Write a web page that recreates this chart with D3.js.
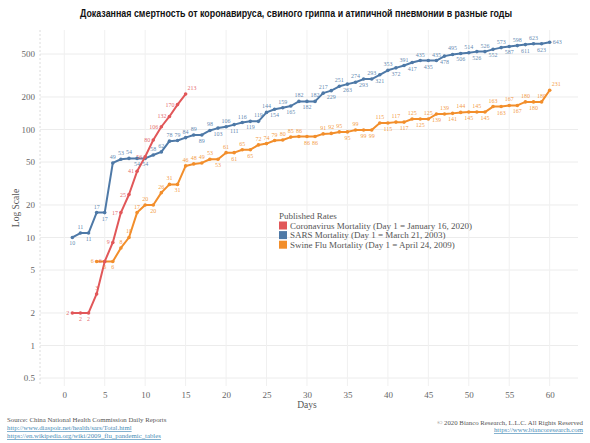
<!DOCTYPE html>
<html><head><meta charset="utf-8">
<script src="https://cdn.jsdelivr.net/npm/d3@7"></script>
<style>
body{margin:0;background:#fff;}
svg{display:block;}
</style></head>
<body>
<svg id="chart" width="590" height="443"></svg>
<script>
const title = "Доказанная смертность от коронавируса, свиного гриппа и атипичной пневмонии в разные годы";
const coronaDays = d3.range(1, 16);
const coronaValues = [2,2,2,3,6,9,17,25,41,56,80,106,132,170,213];
const sarsDays = d3.range(1, 61);
const sarsValues = [10,11,11,17,17,49,53,54,54,54,58,62,78,79,84,89,89,98,103,106,111,116,119,119,144,154,159,165,182,182,182,217,229,251,263,274,293,293,321,353,372,391,417,435,435,435,478,495,506,514,526,526,552,573,587,598,611,623,623,643];
const swineDays = d3.range(4, 61);
const swineValues = [6,6,6,8,10,17,20,20,26,31,31,46,48,49,53,53,61,61,65,65,72,74,79,80,85,86,86,86,91,92,95,95,99,99,99,115,115,117,117,125,125,125,139,139,141,144,145,145,145,163,163,167,167,180,180,180,231];
const yTicks = [0.5,1,2,5,10,20,50,100,200,500];
const xTicks = d3.range(0, 61, 5);
const seriesNames = ["Coronavirus Mortality (Day 1 = January 16, 2020)","SARS Mortality  (Day 1 = March 21, 2003)","Swine Flu Mortality  (Day 1 = April 24, 2009)"];
const seriesColors = ["#e15759","#4e79a7","#f28e2b"];
const legendTitle = "Published Rates";
const sourceLines = ["Source: China National Health Commission Daily Reports","http://www.diaspoir.net/health/sars/Total.html","https://en.wikipedia.org/wiki/2009_flu_pandemic_tables"];
const copyright = "© 2020 Bianco Research, L.L.C. All Rights Reserved";
const siteUrl = "https://www.biancoresearch.com";

const svg = d3.select("#chart");
const serif = "'Liberation Serif','DejaVu Serif',serif";
const L = 40, R = 578, T = 30, B = 386;
const x = d3.scaleLinear().domain([-3, 63.5]).range([L, R]);
const y = d3.scaleLog().domain([0.5, 500]).range([378, 54]);

// title
svg.append("text").attr("x", 296).attr("y", 17).attr("text-anchor","middle")
  .attr("font-family","'Liberation Sans',Arial,sans-serif").attr("font-weight","bold")
  .attr("font-size",10.5).attr("fill","#111")
  .attr("textLength",432).attr("lengthAdjust","spacingAndGlyphs").text(title);

// grid
const g = svg.append("g");
g.selectAll("line.h").data(yTicks).join("line").attr("class","h")
  .attr("x1",L).attr("x2",R).attr("y1",d=>y(d)).attr("y2",d=>y(d))
  .attr("stroke","#ececec").attr("stroke-width",1);
g.selectAll("line.v").data(xTicks).join("line").attr("class","v")
  .attr("x1",d=>x(d)).attr("x2",d=>x(d)).attr("y1",T).attr("y2",B)
  .attr("stroke","#f0f0f0").attr("stroke-width",1);
g.append("line").attr("x1",L).attr("x2",L).attr("y1",T).attr("y2",B)
  .attr("stroke","#dcdcdc").attr("stroke-dasharray","2,2");

// axes
const yAxis = svg.append("g").attr("transform",`translate(${L},0)`)
  .call(d3.axisLeft(y).tickValues(yTicks).tickFormat(d=>String(d)).tickSize(0).tickPadding(5));
const xAxis = svg.append("g").attr("transform",`translate(0,${B})`)
  .call(d3.axisBottom(x).tickValues(xTicks).tickFormat(d=>String(d)).tickSize(0).tickPadding(6));
[yAxis,xAxis].forEach(a=>{
  a.select(".domain").remove();
  a.selectAll("text").attr("font-family",serif).attr("font-size",9).attr("fill","#666");
});

svg.append("text").attr("transform","translate(19,208) rotate(-90)").attr("text-anchor","middle")
  .attr("font-family",serif).attr("font-size",9.5).attr("fill","#555").text("Log Scale");
svg.append("text").attr("x",x(30)).attr("y",408).attr("text-anchor","middle")
  .attr("font-family",serif).attr("font-size",9.5).attr("fill","#555").text("Days");

// series
const series = [
  {days: sarsDays, values: sarsValues, color: seriesColors[1], first:"below", last:"right", side:false},
  {days: swineDays, values: swineValues, color: seriesColors[2], first:"left", last:"upright", side:false},
  {days: coronaDays, values: coronaValues, color: seriesColors[0], first:"left", last:"upright", side:true}
];
const line = d3.line().x(d=>x(d[0])).y(d=>y(d[1]));
const placed = [];
function overlaps(b){
  return placed.some(p => b.x0 < p.x1 && b.x1 > p.x0 && b.y0 < p.y1 && b.y1 > p.y0);
}
const lineLayer = svg.append("g");
const labelLayer = svg.append("g");
series.forEach(s=>{
  const pts = s.days.map((d,i)=>[d, s.values[i]]);
  lineLayer.append("path").datum(pts).attr("d",line).attr("fill","none")
    .attr("stroke",s.color).attr("stroke-width",2).attr("stroke-linejoin","round");
  lineLayer.append("g").selectAll("circle").data(pts).join("circle")
    .attr("cx",d=>x(d[0])).attr("cy",d=>y(d[1])).attr("r",1.8).attr("fill",s.color);
});
series.forEach(s=>{
  const pts = s.days.map((d,i)=>[d, s.values[i]]);
  pts.forEach((d,i)=>{
    const t = labelLayer.append("text").attr("font-family",serif).attr("font-size",6)
      .attr("fill",s.color).attr("fill-opacity",0.9).text(d[1]);
    const w = t.node().getComputedTextLength();
    const cx = x(d[0]), cy = y(d[1]);
    const cands = [];
    const above = {x: cx, y: cy-4, a:"middle"}, below = {x: cx, y: cy+8, a:"middle"};
    const left = {x: cx-3, y: cy+2, a:"end"}, right = {x: cx+3, y: cy+4, a:"start"};
    if (i === 0) {
      cands.push(s.first === "left" ? left : below, above);
    } else if (i === pts.length-1) {
      cands.push(s.last === "right" ? {x: cx+3, y: cy+2, a:"start"} : {x: cx+2, y: cy-4, a:"start"});
    } else if (s.side && i >= 4) { cands.push(left, right, above, below); }
    else if (d[1] > pts[i-1][1]) { cands.push(above, below); }
    else { cands.push(below, above); }
    const box = c => {
      const x0 = c.a === "middle" ? c.x - w/2 : (c.a === "end" ? c.x - w : c.x);
      return {x0: x0 - 0.3, x1: x0 + w + 0.3, y0: c.y - 4.6, y1: c.y + 0.6};
    };
    let chosen = cands.find(c => !overlaps(box(c))) || cands[0];
    placed.push(box(chosen));
    t.attr("x",chosen.x).attr("y",chosen.y).attr("text-anchor",chosen.a);
  });
});

// legend
const lg = svg.append("g").attr("transform","translate(279,0)");
lg.append("text").attr("x",0).attr("y",219).attr("font-family",serif).attr("font-size",9).attr("fill","#555").text(legendTitle);
seriesNames.forEach((n,i)=>{
  const yy = 225 + i*9.6;
  lg.append("rect").attr("x",0).attr("y",yy-3.5).attr("width",8).attr("height",8).attr("fill",seriesColors[i]);
  lg.append("text").attr("x",11).attr("y",yy+3.5).attr("font-family",serif).attr("font-size",9).attr("fill","#555").text(n);
});

// footer
sourceLines.forEach((s,i)=>{
  const t = svg.append("text").attr("x",7).attr("y",422 + i*8).attr("font-family",serif)
    .attr("font-size",6.8).attr("fill", i===0 ? "#555" : "#4a8db7").text(s);
  if (i>0) t.attr("text-decoration","underline");
});
svg.append("text").attr("x",583).attr("y",425).attr("text-anchor","end").attr("font-family",serif)
  .attr("font-size",6.8).attr("fill","#555").text(copyright);
svg.append("text").attr("x",583).attr("y",432).attr("text-anchor","end").attr("font-family",serif)
  .attr("font-size",6.8).attr("fill","#4a8db7").attr("text-decoration","underline").text(siteUrl);
</script>
</body></html>
